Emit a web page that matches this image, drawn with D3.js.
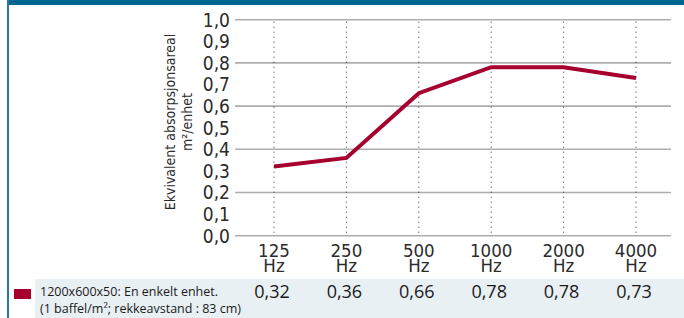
<!DOCTYPE html>
<html>
<head>
<meta charset="utf-8">
<script src="https://cdn.jsdelivr.net/npm/d3@7"></script>
<style>
  html, body { margin: 0; padding: 0; background: #fff; }
  svg { display: block; }
  .narrow { font-family: "Liberation Sans Narrow", "DejaVu Sans Condensed", sans-serif; fill: #2b2b2b; }
  .regular { font-family: "Open Sans", "Noto Sans", sans-serif; fill: #1a1a1a; }
</style>
</head>
<body>
<svg id="chart" width="684" height="318"></svg>
<script>
const frequencies = ['125', '250', '500', '1000', '2000', '4000'];
const absorption = [0.32, 0.36, 0.66, 0.78, 0.78, 0.73];
const yTicks = [0, 0.1, 0.2, 0.3, 0.4, 0.5, 0.6, 0.7, 0.8, 0.9, 1.0];
const gridTicks = [0, 0.2, 0.4, 0.6, 0.8, 1.0];
const legendLines = ['1200x600x50: En enkelt enhet.', '(1 baffel/m²; rekkeavstand : 83 cm)'];
const yTitle = ['Ekvivalent absorpsjonsareal', 'm²/enhet'];

const fmt = v => v.toFixed(1).replace('.', ',');
const fmt2 = v => v.toFixed(2).replace('.', ',');

const svg = d3.select('#chart');

// frame
svg.append('rect').attr('x', 7).attr('y', 0).attr('width', 677).attr('height', 5).attr('fill', '#006591');
svg.append('rect').attr('x', 7).attr('y', 0).attr('width', 2).attr('height', 318).attr('fill', '#2a78a8');

const x = d3.scalePoint().domain(frequencies).range([274, 636]);
const y = d3.scaleLinear().domain([0, 1]).range([235.7, 19.7]);

// horizontal grid
svg.append('g').selectAll('line').data(gridTicks).enter().append('line')
  .attr('x1', 235).attr('x2', 671)
  .attr('y1', d => y(d)).attr('y2', d => y(d))
  .attr('stroke', '#adadad').attr('stroke-width', 1.6);

// vertical dotted lines
svg.append('g').selectAll('line').data(frequencies).enter().append('line')
  .attr('x1', d => x(d)).attr('x2', d => x(d))
  .attr('y1', y(1) + 2).attr('y2', y(0))
  .attr('stroke', '#333').attr('stroke-width', 1)
  .attr('stroke-dasharray', '1,4');

// y tick labels
svg.append('g').selectAll('text').data(yTicks).enter().append('text')
  .attr('class', 'narrow')
  .attr('x', 230).attr('y', d => y(d)).attr('dy', '0.36em')
  .attr('text-anchor', 'end').attr('font-size', 19)
  .text(fmt);

// y title
const yt = svg.append('g').attr('transform', 'translate(0,122) rotate(-90)');
yt.append('text').attr('class', 'narrow').attr('x', 0).attr('y', 175)
  .attr('text-anchor', 'middle').attr('font-size', 14).text(yTitle[0]);
yt.append('text').attr('class', 'narrow').attr('x', 0).attr('y', 192)
  .attr('text-anchor', 'middle').attr('font-size', 14).text(yTitle[1]);

// x labels: number and unit in one text, two tight lines
const xl = svg.append('g').selectAll('text').data(frequencies).enter().append('text')
  .attr('class', 'narrow').attr('text-anchor', 'middle').attr('font-size', 18.5);
xl.append('tspan').attr('x', d => x(d)).attr('y', 257).text(d => d);
xl.append('tspan').attr('x', d => x(d)).attr('y', 272).text('Hz');

// line
const line = d3.line().x((d, i) => x(frequencies[i])).y(d => y(d));
svg.append('path').datum(absorption)
  .attr('d', line).attr('fill', 'none')
  .attr('stroke', '#a6002f').attr('stroke-width', 4)
  .attr('stroke-linejoin', 'miter');

// table row
svg.append('rect').attr('x', 35).attr('y', 279).attr('width', 649).attr('height', 39).attr('fill', '#e9f0f4');
svg.append('rect').attr('x', 14).attr('y', 289).attr('width', 17).attr('height', 10).attr('fill', '#a6002f');

svg.append('g').selectAll('text').data(legendLines).enter().append('text')
  .attr('class', 'regular')
  .attr('x', 40).attr('y', (d, i) => 296 + i * 16.5)
  .attr('font-size', 12.5)
  .text(d => d);

svg.append('g').selectAll('text').data(absorption).enter().append('text')
  .attr('class', 'regular')
  .attr('x', (d, i) => x(frequencies[i]) - 2).attr('y', 298)
  .attr('text-anchor', 'middle').attr('font-size', 18)
  .text(fmt2);
</script>
</body>
</html>
